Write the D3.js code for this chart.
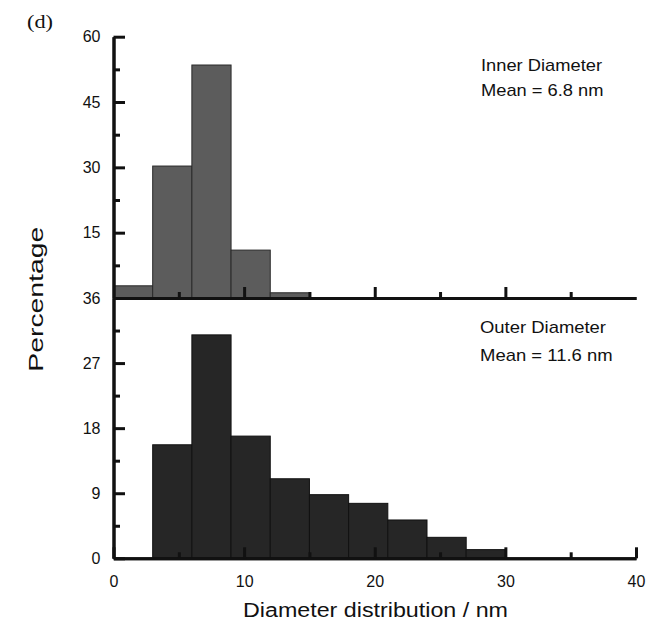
<!DOCTYPE html>
<html>
<head>
<meta charset="utf-8">
<script src="https://cdn.jsdelivr.net/npm/d3@7/dist/d3.min.js"></script>
<style>
  html, body { margin: 0; padding: 0; background: #fff; }
  svg { display: block; }
  text { font-family: "Liberation Sans", Arial, sans-serif; fill: #111; }
</style>
</head>
<body>
<div id="chart"></div>
<script>
// Histogram bins (nm) and percentages for the two diameter distributions
const binWidth = 3;
const innerBinStart = [0, 3, 6, 9, 12];
const innerPct = [2.8, 30.3, 53.5, 11.0, 1.2];
const outerBinStart = [3, 6, 9, 12, 15, 18, 21, 24, 27];
const outerPct = [15.7, 30.9, 16.9, 11.0, 8.8, 7.6, 5.3, 2.9, 1.2];

const innerTicks = [15, 30, 45, 60];
const innerMinor = [7.5, 22.5, 37.5, 52.5];
const outerTicks = [0, 9, 18, 27, 36];
const outerMinor = [4.5, 13.5, 22.5, 31.5];
const xTicks = [0, 10, 20, 30, 40];
const xMinor = [5, 15, 25, 35];

const W = 648, H = 623;
const svg = d3.select("#chart").append("svg").attr("width", W).attr("height", H);

const x = d3.scaleLinear().domain([0, 40]).range([113.5, 636]);
const yTop = d3.scaleLinear().domain([0, 60]).range([298, 36.7]);
const yBot = d3.scaleLinear().domain([0, 36]).range([558.3, 298]);

const innerData = innerBinStart.map((s, i) => ({ s, v: innerPct[i] }));
const outerData = outerBinStart.map((s, i) => ({ s, v: outerPct[i] }));

// bars
svg.append("g").selectAll("rect").data(innerData).join("rect")
  .attr("x", d => x(d.s))
  .attr("width", d => x(d.s + binWidth) - x(d.s))
  .attr("y", d => yTop(d.v))
  .attr("height", d => yTop(0) - yTop(d.v))
  .attr("fill", "#5c5c5c")
  .attr("stroke", "#2a2a2a")
  .attr("stroke-width", 1);

svg.append("g").selectAll("rect").data(outerData).join("rect")
  .attr("x", d => x(d.s))
  .attr("width", d => x(d.s + binWidth) - x(d.s))
  .attr("y", d => yBot(d.v))
  .attr("height", d => yBot(0) - yBot(d.v))
  .attr("fill", "#262626")
  .attr("stroke", "#111")
  .attr("stroke-width", 1);

function styleAxis(g) {
  g.selectAll("path, line").attr("stroke", "#111").attr("stroke-width", 3);
  g.selectAll("text").style("font-family", '"Liberation Sans", Arial, sans-serif')
    .style("font-size", "16px").attr("fill", "#111");
}

// left axes (ticks pointing inward)
const x0 = x(0);
svg.append("g").attr("transform", `translate(${x0},0)`)
  .call(d3.axisLeft(yTop).tickValues(innerMinor).tickSize(-6.5).tickFormat("").tickSizeOuter(0))
  .call(styleAxis);
svg.append("g").attr("transform", `translate(${x0},0)`)
  .call(d3.axisLeft(yTop).tickValues(innerTicks).tickSize(-11.5).tickPadding(13).tickSizeOuter(0))
  .call(styleAxis);
svg.append("g").attr("transform", `translate(${x0},0)`)
  .call(d3.axisLeft(yBot).tickValues(outerMinor).tickSize(-6.5).tickFormat("").tickSizeOuter(0))
  .call(styleAxis);
svg.append("g").attr("transform", `translate(${x0},0)`)
  .call(d3.axisLeft(yBot).tickValues(outerTicks).tickSize(-11.5).tickPadding(13).tickSizeOuter(0))
  .call(styleAxis);

// horizontal axis of the upper panel (no labels, no tick at 40)
svg.append("g").attr("transform", `translate(0,${yTop(0)})`)
  .call(d3.axisBottom(x).tickValues(xMinor).tickSize(-6).tickFormat("").tickSizeOuter(0))
  .call(styleAxis);
svg.append("g").attr("transform", `translate(0,${yTop(0)})`)
  .call(d3.axisBottom(x).tickValues([10, 20, 30]).tickSize(-11).tickFormat("").tickSizeOuter(0))
  .call(styleAxis);

// bottom axis
svg.append("g").attr("transform", `translate(0,${yBot(0)})`)
  .call(d3.axisBottom(x).tickValues(xMinor).tickSize(-6).tickFormat("").tickSizeOuter(0))
  .call(styleAxis);
svg.append("g").attr("transform", `translate(0,${yBot(0)})`)
  .call(d3.axisBottom(x).tickValues(xTicks).tickSize(-11).tickPadding(17).tickSizeOuter(0))
  .call(styleAxis);

// panel annotations
function label(txt, px, py, size, len) {
  svg.append("text").attr("x", px).attr("y", py)
    .style("font-size", size + "px")
    .attr("textLength", len).attr("lengthAdjust", "spacingAndGlyphs")
    .text(txt);
}
label("Inner Diameter", 481, 71, 17, 121);
label("Mean = 6.8 nm", 481, 96, 17, 122.5);
label("Outer Diameter", 480, 332.7, 17, 126);
label("Mean = 11.6 nm", 480, 360.7, 17, 132.7);

// axis titles
svg.append("text").attr("x", 243).attr("y", 616.5)
  .style("font-size", "20px")
  .attr("textLength", 265).attr("lengthAdjust", "spacingAndGlyphs")
  .text("Diameter distribution / nm");

svg.append("text")
  .attr("transform", "translate(42.5,371.7) rotate(-90)")
  .style("font-size", "21px")
  .attr("textLength", 145).attr("lengthAdjust", "spacingAndGlyphs")
  .text("Percentage");

// panel letter
svg.append("text").attr("x", 27).attr("y", 28)
  .style("font-family", '"Liberation Serif", "Times New Roman", serif')
  .style("font-size", "19px")
  .attr("textLength", 26).attr("lengthAdjust", "spacingAndGlyphs")
  .text("(d)");
</script>
</body>
</html>
